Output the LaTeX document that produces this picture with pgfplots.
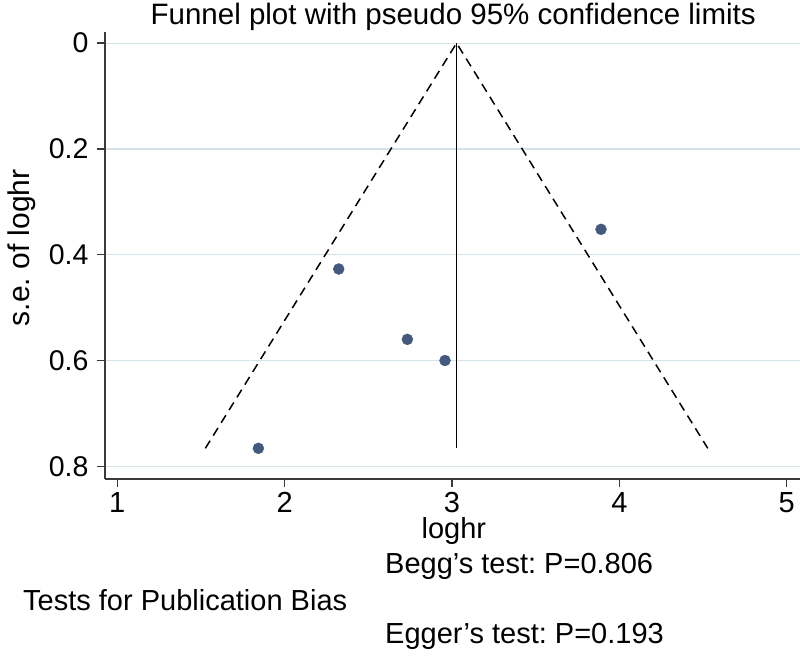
\documentclass[border=0pt]{standalone}
\usepackage{fontspec}
\setmainfont{Liberation Sans}
\usepackage{pgfplots}
\pgfplotsset{compat=1.18}
\definecolor{gridc}{HTML}{D6E2E9}
\definecolor{dotc}{HTML}{435A7E}
\definecolor{spine}{HTML}{3A3A3A}
\frenchspacing
\begin{document}
\begin{tikzpicture}
\useasboundingbox (0,0) rectangle (800bp,-656bp);
\begin{axis}[
  at={(105bp,-479bp)}, anchor=south west,
  scale only axis, width=695bp, height=447bp,
  xmin=0.9265, xmax=5.079, ymin=-0.021, ymax=0.824, y dir=reverse,
  axis x line*=bottom, axis y line*=left,
  axis line style={spine, line width=1.3bp, -},
  xtick={1,2,3,4,5}, ytick={0,0.2,0.4,0.6,0.8},
  xticklabels={1,2,3,4,5}, yticklabels={0,0.2,0.4,0.6,0.8},
  tick align=outside, major tick length=8bp,
  tick style={spine, line width=1.3bp},
  ymajorgrids, grid style={gridc, line width=1.2bp},
  xticklabel style={font=\fontsize{29bp}{34bp}\selectfont, inner sep=5bp},
  yticklabel style={font=\fontsize{28.5bp}{33bp}\selectfont, xshift=-5bp},
  every axis title shift=0pt,
  title={Funnel plot with pseudo 95\% confidence limits},
  title style={font=\fontsize{29.5bp}{35bp}\selectfont, at={(axis description cs:0.501,1.0157)}, anchor=base, inner sep=0pt},
  xlabel={loghr},
  xlabel style={font=\fontsize{29bp}{34bp}\selectfont, at={(axis description cs:0.502,-0.134)}, anchor=base, inner sep=0pt},
  ylabel={s.e. of loghr},
  ylabel style={font=\fontsize{30bp}{35bp}\selectfont, at={(axis description cs:-0.1194,0.517)}, anchor=center, rotate=0, inner sep=0pt},
  clip=false,
]
% pseudo 95% confidence limits
\addplot[black, line width=1.5bp, dash pattern=on 9bp off 6bp] coordinates {(1.526,0.766) (3.027,0) (4.528,0.766)};
% pooled estimate
\addplot[black, line width=1.7bp] coordinates {(3.027,0) (3.027,0.766)};
% studies
\addplot[only marks, mark=*, mark size=5.5bp, mark options={fill=dotc, draw=dotc}] coordinates {
  (3.890,0.352) (2.323,0.427) (2.733,0.560) (2.958,0.600) (1.843,0.766)
};
\end{axis}
\node[anchor=base west, inner sep=0pt, font=\fontsize{29bp}{34bp}\selectfont] at (385bp,-573bp) {Begg's test: P=0.806};
\node[anchor=base west, inner sep=0pt, font=\fontsize{29bp}{34bp}\selectfont] at (23bp,-610bp) {Tests for Publication Bias};
\node[anchor=base west, inner sep=0pt, font=\fontsize{29bp}{34bp}\selectfont] at (385bp,-643bp) {Egger's test: P=0.193};
\end{tikzpicture}
\end{document}
